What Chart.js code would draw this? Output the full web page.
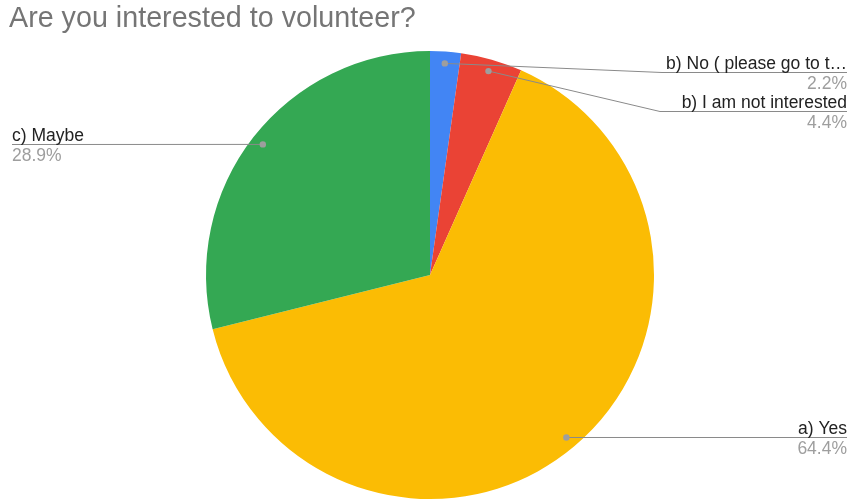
<!DOCTYPE html>
<html>
<head>
<meta charset="utf-8">
<script src="https://cdn.jsdelivr.net/npm/chart.js@4"></script>
<style>
  html, body { margin: 0; padding: 0; background: #fff; }
  #wrap { width: 851px; height: 500px; position: relative; }
</style>
</head>
<body>
<div id="wrap"><canvas id="c" width="851" height="500"></canvas></div>
<script>
const chartTitle = 'Are you interested to volunteer?';
const categories = ['b) No ( please go to t\u2026', 'b) I am not interested', 'a) Yes', 'c) Maybe'];
const responses = [1, 2, 29, 13];
const sliceColors = ['#4285f4', '#ea4335', '#fbbc04', '#34a853'];

const total = responses.reduce((a, b) => a + b, 0);
const pctText = v => (v / total * 100).toFixed(1) + '%';

// label anchors: where each leader line ends and which side the text sits on
const labelPlacement = [
  { side: 'right', elbowX: 662, y: 72 },
  { side: 'right', elbowX: 660, y: 111 },
  { side: 'right', elbowX: null, y: null },
  { side: 'left',  elbowX: null, y: null }
];

const FONT = '17.5px "Liberation Sans", Arial, sans-serif';

const calloutPlugin = {
  id: 'callouts',
  afterDraw(chart) {
    const ctx = chart.ctx;
    ctx.save();
    // title
    ctx.font = '28.7px "Liberation Sans", Arial, sans-serif';
    ctx.fillStyle = '#757575';
    ctx.textAlign = 'left';
    ctx.textBaseline = 'alphabetic';
    ctx.fillText(chartTitle, 9, 27);

    const meta = chart.getDatasetMeta(0);
    const W = chart.width;
    meta.data.forEach((arc, i) => {
      const p = arc.getProps(['x', 'y', 'startAngle', 'endAngle', 'outerRadius'], true);
      const mid = (p.startAngle + p.endAngle) / 2;
      const r = p.outerRadius * 0.947;
      const dx = p.x + Math.cos(mid) * r;
      const dy = p.y + Math.sin(mid) * r;
      const pl = labelPlacement[i];
      const ly = pl.y == null ? Math.round(dy) + 0.5 : pl.y + 0.5;
      ctx.strokeStyle = '#8a8a8a';
      ctx.lineWidth = 1;
      ctx.beginPath();
      ctx.moveTo(dx, dy);
      let textX;
      if (pl.side === 'right') {
        if (pl.elbowX != null) ctx.lineTo(pl.elbowX, ly);
        ctx.lineTo(W - 4, ly);
        textX = W - 4;
      } else {
        ctx.lineTo(12, ly);
        textX = 12;
      }
      ctx.stroke();
      ctx.fillStyle = '#9e9e9e';
      ctx.beginPath();
      ctx.arc(dx, dy, 3.2, 0, Math.PI * 2);
      ctx.fill();

      ctx.font = FONT;
      ctx.textAlign = pl.side === 'right' ? 'right' : 'left';
      ctx.fillStyle = '#222222';
      ctx.fillText(categories[i], textX, ly - 4);
      ctx.fillStyle = '#9e9e9e';
      ctx.fillText(pctText(responses[i]), textX, ly + 16);
    });
    ctx.restore();
  }
};

new Chart(document.getElementById('c'), {
  type: 'pie',
  data: {
    labels: categories,
    datasets: [{
      data: responses,
      backgroundColor: sliceColors,
      borderWidth: 0
    }]
  },
  options: {
    responsive: false,
    animation: false,
    layout: { padding: { top: 51, bottom: 1, left: 206, right: 197 } },
    plugins: {
      legend: { display: false },
      tooltip: { enabled: false },
      title: { display: false }
    }
  },
  plugins: [calloutPlugin]
});
</script>
</body>
</html>
